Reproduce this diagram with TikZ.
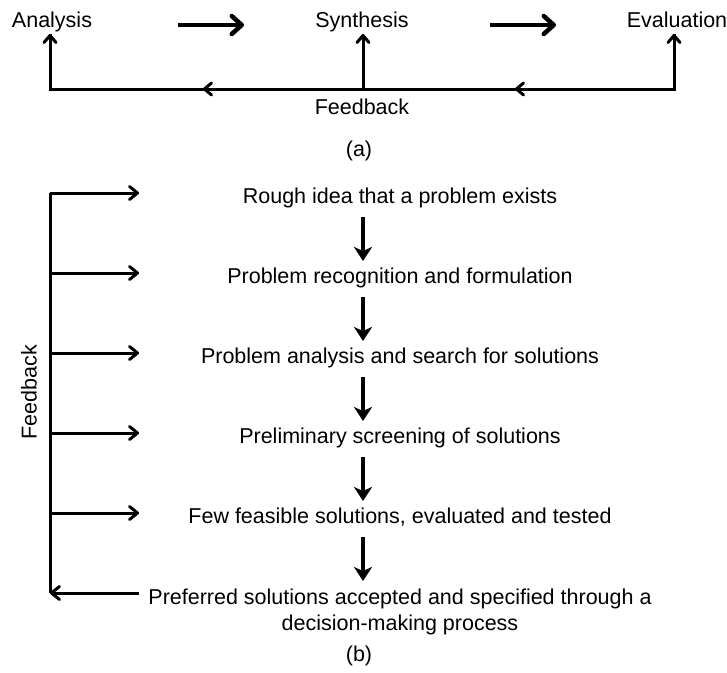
\documentclass[tikz,border=0pt]{standalone}
\usepackage{fontspec}
\setmainfont{Liberation Sans}
\usetikzlibrary{arrows.meta}
\begin{document}
\begin{tikzpicture}[x=1pt,y=-1pt,
  lbl/.style={inner sep=0pt, anchor=base, font=\fontsize{21.5}{26}\selectfont},
  flow/.style={line width=4.5pt, -{Straight Barb[length=10pt,width=18pt,round]}},
  fbline/.style={line width=3pt},
  fbarrow/.style={line width=3pt, -{Straight Barb[length=7pt,width=12pt,round]}},
  branch/.style={line width=3pt, -{Straight Barb[length=8pt,width=13pt,round]}},
  stepdown/.style={line width=4pt, -{Stealth[length=14pt,width=18pt,inset=4pt]}}]
\useasboundingbox (0,0) rectangle (727,672);

% ---------- (a) analysis / synthesis / evaluation ----------
\node[lbl] (ana) at (52,27) {Analysis};
\node[lbl] (syn) at (362,27) {Synthesis};
\node[lbl] (eva) at (677,27) {Evaluation};

\coordinate (f1s) at (178,25);
\coordinate (f1e) at (244,25);
\coordinate (f2s) at (490,25);
\coordinate (f2e) at (556,25);
\draw[flow] (f1s) -- (f1e);
\draw[flow] (f2s) -- (f2e);

\coordinate (cA) at (50,89);
\coordinate (cS) at (363,89);
\coordinate (cE) at (674,89);
\coordinate (tA) at (50,34);
\coordinate (tS) at (363,34);
\coordinate (tE) at (674,34);
\coordinate (mA) at (203,89);
\coordinate (mS) at (515,89);

\draw[fbline, line join=miter] (tE) -- (cE) -- (cA) -- (tA);
\draw[fbarrow] (cA) -- (tA);
\draw[fbarrow] (cS) -- (tS);
\draw[fbarrow] (cE) -- (tE);
\draw[fbarrow] (cS) -- (mA);
\draw[fbarrow] (cE) -- (mS);

\node[lbl] (fbA) at (362,114) {Feedback};
\node[lbl] (capA) at (359,156) {(a)};

% ---------- (b) design process steps ----------
\node[lbl] (s1) at (400,203) {Rough idea that a problem exists};
\node[lbl] (s2) at (400,283) {Problem recognition and formulation};
\node[lbl] (s3) at (400,363) {Problem analysis and search for solutions};
\node[lbl] (s4) at (400,443) {Preliminary screening of solutions};
\node[lbl] (s5) at (400,523) {Few feasible solutions, evaluated and tested};
% base anchor of a two-line node sits on its last line
\node[lbl, align=center] (s6) at (400,630)
  {Preferred solutions accepted and specified through a\\decision-making process};
\node[lbl] (capB) at (359,661) {(b)};

\foreach \i/\y in {1/203,2/283,3/363,4/443,5/523}{
  \coordinate (d\i s) at (363,\y+14);
  \coordinate (d\i e) at (363,\y+58);
}
\foreach \i in {1,...,5}{
  \draw[stepdown] (d\i s) -- (d\i e);
}

% feedback rail on the left
\coordinate (rTop) at (50,193);
\coordinate (rBot) at (50,593);
\coordinate (pOut) at (139,593);
\draw[line width=3pt] (rTop) -- (rBot);
\foreach \i/\y in {1/193,2/273,3/353,4/433,5/513}{
  \coordinate (r\i) at (50,\y);
  \coordinate (b\i) at (139,\y);
  \draw[branch] (r\i) -- (b\i);
}
\draw[branch] (pOut) -- (rBot);

\node[lbl, anchor=center, rotate=90] (fbB) at (29,392) {Feedback};
\end{tikzpicture}
\end{document}
